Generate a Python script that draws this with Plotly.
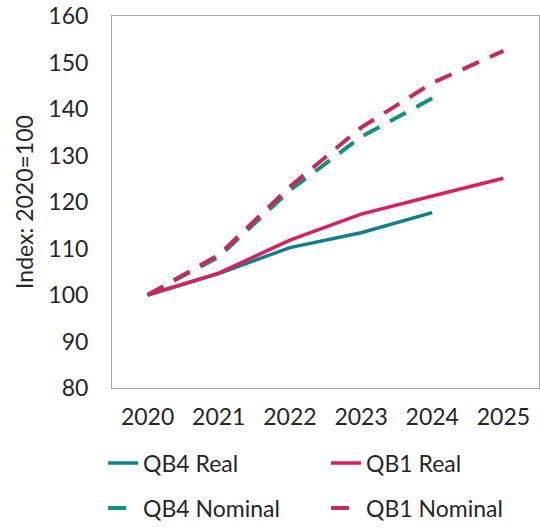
import plotly.graph_objects as go

years = ["2020", "2021", "2022", "2023", "2024", "2025"]
qb4_real = [100, 104.6, 110.2, 113.4, 117.7]
qb1_real = [100, 104.7, 111.8, 117.4, 121.3, 125.1]
qb4_nominal = [100, 108.2, 122.5, 134.0, 142.3]
qb1_nominal = [100, 108.6, 123.3, 136.0, 145.6, 152.5]

teal_real = "#107F8C"
teal_nom = "#13907F"
pink_real = "#DA1E5E"
pink_nom = "#C9285E"

font_family = "Lato, 'Open Sans', sans-serif"
text_color = "#262626"

fig = go.Figure()
fig.add_trace(go.Scatter(x=years[:len(qb4_real)], y=qb4_real, name="QB4 Real", mode="lines",
                         line=dict(color=teal_real, width=3.5), legend="legend"))
fig.add_trace(go.Scatter(x=years[:len(qb1_real)], y=qb1_real, name="QB1 Real", mode="lines",
                         line=dict(color=pink_real, width=3.5), legend="legend"))
fig.add_trace(go.Scatter(x=years[:len(qb4_nominal)], y=qb4_nominal, name="QB4 Nominal", mode="lines",
                         line=dict(color=teal_nom, width=4, dash="18px,12px"), legend="legend2"))
fig.add_trace(go.Scatter(x=years[:len(qb1_nominal)], y=qb1_nominal, name="QB1 Nominal", mode="lines",
                         line=dict(color=pink_nom, width=4, dash="18px,12px"), legend="legend2"))

legend_common = dict(orientation="h", xanchor="left", yanchor="middle", x=-0.021,
                     entrywidth=178, entrywidthmode="pixels",
                     font=dict(family=font_family, size=23, color=text_color),
                     bgcolor="rgba(0,0,0,0)", traceorder="normal")

fig.update_layout(
    width=540, height=529,
    margin=dict(l=112, r=1, t=16, b=141, autoexpand=False),
    paper_bgcolor="white", plot_bgcolor="white",
    font=dict(family=font_family, size=23, color=text_color),
    showlegend=True,
    legend=dict(**legend_common, y=-0.2016),
    legend2=dict(**legend_common, y=-0.3226),
    xaxis=dict(type="category", range=[-0.5, 5.5], showgrid=False, ticks="",
               showline=True, linecolor="#A6A6A6", linewidth=1, mirror=True,
               tickfont=dict(size=23, color=text_color), ticklabelstandoff=8),
    yaxis=dict(range=[80, 160], dtick=10, showgrid=False, ticks="", zeroline=False,
               showline=True, linecolor="#A6A6A6", linewidth=1, mirror=True,
               tickfont=dict(size=23, color=text_color), ticklabelstandoff=18,
               title=dict(text="Index: 2020=100", font=dict(size=23, color=text_color), standoff=8)),
)

fig.write_html("out.html", config={"displayModeBar": False},
               post_script="document.body.style.margin='0';")
